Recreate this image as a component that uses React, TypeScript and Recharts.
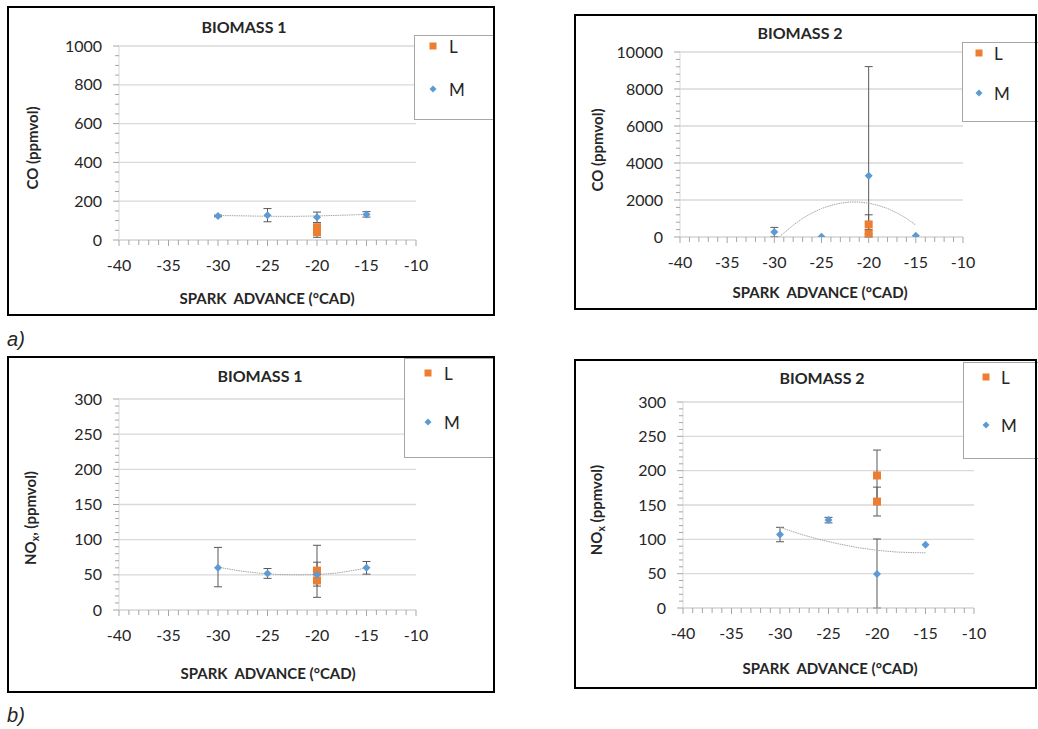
import React from 'react';
import { ScatterChart, Scatter, XAxis, YAxis, ErrorBar, ReferenceLine, Legend } from 'recharts';

const ORANGE = '#ED7D31';
const BLUE = '#5B9BD5';
const ERR = '#595959';
const TREND = '#a6a6a6';
const FONT = 'Lato, "Open Sans", sans-serif';

type Pt = { x: number; y: number; err?: number | number[] };

// tick labels
const xMajor = [-40, -35, -30, -25, -20, -15, -10];
const coB1Ticks = [0, 200, 400, 600, 800, 1000];
const coB2Ticks = [0, 2000, 4000, 6000, 8000, 10000];
const noxTicks = [0, 50, 100, 150, 200, 250, 300];

// a) CO, biomass 1
const coB1L: Pt[] = [
  { x: -20, y: 66 },
  { x: -20, y: 41, err: 27 },
];
const coB1M: Pt[] = [
  { x: -30, y: 124, err: 4 },
  { x: -25, y: 128, err: 34 },
  { x: -20, y: 117, err: 27 },
  { x: -15, y: 132, err: 14 },
];
const coB1Trend: Pt[] = [
  { x: -30, y: 126 }, { x: -28, y: 125 }, { x: -26, y: 123 }, { x: -24, y: 122 },
  { x: -22, y: 122 }, { x: -20, y: 124 }, { x: -18, y: 127 }, { x: -16, y: 130 }, { x: -15, y: 132 },
];

// a) CO, biomass 2
const coB2L: Pt[] = [
  { x: -20, y: 680, err: 520 },
  { x: -20, y: 180, err: [180, 220] },
];
const coB2M: Pt[] = [
  { x: -30, y: 270, err: 250 },
  { x: -25, y: 20 },
  { x: -20, y: 3310, err: [3310, 5900] },
  { x: -15, y: 70 },
];
const coB2Trend: Pt[] = [
  { x: -29.5, y: 0 }, { x: -28, y: 640 }, { x: -27, y: 1010 }, { x: -26, y: 1300 },
  { x: -25, y: 1540 }, { x: -24, y: 1710 }, { x: -23, y: 1830 }, { x: -22, y: 1890 },
  { x: -21, y: 1890 }, { x: -20, y: 1830 }, { x: -19, y: 1710 }, { x: -18, y: 1540 },
  { x: -17, y: 1300 }, { x: -16, y: 1010 }, { x: -15, y: 640 },
];

// b) NOx, biomass 1
const noxB1L: Pt[] = [
  { x: -20, y: 56, err: 12 },
  { x: -20, y: 42, err: 8 },
];
const noxB1M: Pt[] = [
  { x: -30, y: 60, err: [27, 29] },
  { x: -25, y: 52, err: 7 },
  { x: -20, y: 50, err: [32, 42] },
  { x: -15, y: 60, err: 9 },
];
const noxB1Trend: Pt[] = [
  { x: -30, y: 61 }, { x: -28, y: 56 }, { x: -26, y: 52.5 }, { x: -24, y: 50.5 },
  { x: -22, y: 50 }, { x: -20, y: 50.5 }, { x: -18, y: 52.5 }, { x: -16, y: 57 }, { x: -15, y: 60 },
];

// b) NOx, biomass 2
const noxB2L: Pt[] = [
  { x: -20, y: 193, err: 37 },
  { x: -20, y: 155, err: 21 },
];
const noxB2M: Pt[] = [
  { x: -30, y: 107, err: 10.5 },
  { x: -25, y: 128, err: 4 },
  { x: -20, y: 49.5, err: [49.5, 51] },
  { x: -15, y: 92 },
];
const noxB2Trend: Pt[] = [
  { x: -30, y: 117.5 }, { x: -28, y: 108 }, { x: -26, y: 100 }, { x: -24, y: 93.5 },
  { x: -22, y: 88 }, { x: -20, y: 84 }, { x: -18, y: 81.5 }, { x: -16, y: 80.5 }, { x: -15, y: 80.5 },
];

// subdivide major ticks for the minor tick marks
const withMinors = (majors: number[], div: number) => {
  const out: number[] = [];
  for (let i = 0; i < majors.length - 1; i++) {
    const step = (majors[i + 1] - majors[i]) / div;
    for (let k = 0; k < div; k++) out.push(majors[i] + k * step);
  }
  out.push(majors[majors.length - 1]);
  return out;
};

const xAll = withMinors(xMajor, 5);

const Square = (p: any) => <rect x={p.cx - 4} y={p.cy - 4} width={8} height={8} fill={ORANGE} />;
const Diamond = (p: any) => (
  <polygon points={`${p.cx},${p.cy - 4} ${p.cx + 4},${p.cy} ${p.cx},${p.cy + 4} ${p.cx - 4},${p.cy}`} fill={BLUE} />
);
const NoDot = () => <g />;

const renderXTick = (p: any) => {
  const v = p.payload.value;
  const major = xMajor.includes(v);
  return (
    <g>
      <line x1={p.x} x2={p.x} y1={p.y} y2={p.y + (major ? 6 : 5)} stroke="#a6a6a6" />
      {major && (
        <text x={p.x} y={p.y + 25} dy="0.35em" textAnchor="middle" fontSize={16} fontFamily={FONT} fill="#262626">
          {v}
        </text>
      )}
    </g>
  );
};

const yTickRenderer = (majors: number[]) => (p: any) => {
  const v = p.payload.value;
  const major = majors.includes(v);
  return (
    <g>
      <line x1={p.x - (major ? 6 : 4)} x2={p.x} y1={p.y} y2={p.y} stroke="#a6a6a6" />
      {major && (
        <text x={p.x - 17} y={p.y} dy="0.35em" textAnchor="end" fontSize={16} fontFamily={FONT} fill="#262626">
          {v}
        </text>
      )}
    </g>
  );
};

type Box = { l: number; t: number; r: number; b: number };
interface LegendGeo { box: Box; ly: number; my: number; mx: number; tx: number }

const LegendBox = ({ g }: { g: LegendGeo }) => {
  const w = g.box.r - g.box.l;
  const h = g.box.b - g.box.t;
  const mx = g.mx - g.box.l;
  const ly = g.ly - g.box.t;
  const my = g.my - g.box.t;
  return (
    <div style={{ position: 'relative', width: w, height: h, boxSizing: 'border-box', border: '1px solid #a6a6a6', background: '#fff', fontFamily: FONT, fontSize: 17, color: '#262626' }}>
      <svg width={w} height={h} style={{ position: 'absolute', left: 0, top: 0 }}>
        <rect x={mx - 3.5} y={ly - 3.5} width={7} height={7} fill={ORANGE} />
        <polygon points={`${mx},${my - 3.5} ${mx + 3.5},${my} ${mx},${my + 3.5} ${mx - 3.5},${my}`} fill={BLUE} />
      </svg>
      <span style={{ position: 'absolute', left: g.tx - g.box.l, top: ly, transform: 'translateY(-50%)', lineHeight: 1 }}>L</span>
      <span style={{ position: 'absolute', left: g.tx - g.box.l, top: my, transform: 'translateY(-50%)', lineHeight: 1 }}>M</span>
    </div>
  );
};

const Txt = ({ x, y, rot = 0, size = 15, bold = true, italic = false, family, children }: any) => (
  <div
    style={{
      position: 'absolute', left: x, top: y, transform: `translate(-50%, -50%) rotate(${rot}deg)`,
      whiteSpace: 'pre', fontSize: size, fontWeight: bold ? 700 : 400, fontStyle: italic ? 'italic' : 'normal',
      fontFamily: family || FONT, lineHeight: 1, color: '#262626',
    }}
  >
    {children}
  </div>
);

interface PanelProps {
  box: Box;
  plot: Box;
  yTicks: number[];
  yDiv: number;
  L: Pt[];
  M: Pt[];
  trend: Pt[];
  title: string;
  titleAt: [number, number];
  yLabel: React.ReactNode;
  yLabelAt: [number, number];
  xLabelAt: [number, number];
  legend: LegendGeo;
}

const Panel = (p: PanelProps) => {
  const { box, plot, legend } = p;
  const w = box.r - box.l;
  const h = box.b - box.t;
  const yMax = p.yTicks[p.yTicks.length - 1];
  return (
    <>
      <div style={{ position: 'absolute', left: box.l, top: box.t, width: w, height: h }}>
        <ScatterChart width={w} height={h} margin={{ top: plot.t - box.t, right: box.r - plot.r, left: 0, bottom: 0 }}>
          {p.yTicks.slice(1).map((v) => (
            <ReferenceLine key={v} y={v} stroke="#d9d9d9" strokeWidth={1.3} />
          ))}
          <XAxis
            type="number" dataKey="x" domain={[-40, -10]} ticks={xAll} interval={0}
            height={box.b - plot.b} tickSize={0} tickMargin={0} tickLine={false}
            tick={renderXTick} axisLine={{ stroke: '#bfbfbf' }} allowDataOverflow
          />
          <YAxis
            type="number" dataKey="y" domain={[0, yMax]} ticks={withMinors(p.yTicks, p.yDiv)} interval={0}
            width={plot.l - box.l} tickSize={0} tickMargin={0} tickLine={false}
            tick={yTickRenderer(p.yTicks)} axisLine={{ stroke: '#d9d9d9' }} allowDataOverflow
          />
          <Legend
            layout="horizontal" verticalAlign="middle" align="center"
            wrapperStyle={{ left: legend.box.l - box.l, top: legend.box.t - box.t, width: legend.box.r - legend.box.l, height: legend.box.b - legend.box.t }}
            content={() => <LegendBox g={legend} />}
          />
          <Scatter
            name="trend" data={p.trend} shape={NoDot} legendType="none" isAnimationActive={false}
            line={{ stroke: TREND, strokeWidth: 1, strokeDasharray: '1.5 0.8' }} lineType="joint"
          />
          <Scatter name="L" data={p.L} shape={Square} fill={ORANGE} isAnimationActive={false}>
            <ErrorBar dataKey="err" direction="y" width={4} stroke={ERR} strokeWidth={1} isAnimationActive={false} />
          </Scatter>
          <Scatter name="M" data={p.M} shape={Diamond} fill={BLUE} isAnimationActive={false}>
            <ErrorBar dataKey="err" direction="y" width={4} stroke={ERR} strokeWidth={1} isAnimationActive={false} />
          </Scatter>
        </ScatterChart>
      </div>
      <div style={{ position: 'absolute', left: box.l, top: box.t, width: w, height: h, boxSizing: 'border-box', border: '2px solid #000', pointerEvents: 'none' }} />
      <Txt x={p.titleAt[0]} y={p.titleAt[1]} size={16}>{p.title}</Txt>
      <Txt x={p.yLabelAt[0]} y={p.yLabelAt[1]} rot={-90}>{p.yLabel}</Txt>
      <Txt x={p.xLabelAt[0]} y={p.xLabelAt[1]}>{'SPARK  ADVANCE (°CAD)'}</Txt>
    </>
  );
};

const NOx = ({ comma }: { comma?: boolean }) => (
  <span>
    NO<sub style={{ fontSize: '0.7em', verticalAlign: '-0.25em' }}>x</sub>
    {comma ? ', (ppmvol)' : ' (ppmvol)'}
  </span>
);

export default function App() {
  return (
    <div style={{ position: 'absolute', left: 0, top: 0, width: 1038, height: 729, background: '#fff', fontFamily: FONT, overflow: 'hidden' }}>
      <Panel
        box={{ l: 7, t: 6, r: 495, b: 316 }} plot={{ l: 119, t: 46, r: 416, b: 240 }}
        yTicks={coB1Ticks} yDiv={4} L={coB1L} M={coB1M} trend={coB1Trend}
        title="BIOMASS 1" titleAt={[244, 27]} yLabel="CO (ppmvol)" yLabelAt={[32, 148]} xLabelAt={[267, 298]}
        legend={{ box: { l: 414, t: 35, r: 494, b: 120 }, ly: 45, my: 88, mx: 432, tx: 448 }}
      />
      <Panel
        box={{ l: 574, t: 14, r: 1037, b: 310 }} plot={{ l: 680, t: 52, r: 963, b: 237 }}
        yTicks={coB2Ticks} yDiv={5} L={coB2L} M={coB2M} trend={coB2Trend}
        title="BIOMASS 2" titleAt={[800, 33]} yLabel="CO (ppmvol)" yLabelAt={[597, 150]} xLabelAt={[820, 292]}
        legend={{ box: { l: 962, t: 42, r: 1042, b: 122 }, ly: 52, my: 92, mx: 978, tx: 993 }}
      />
      <Panel
        box={{ l: 7, t: 356, r: 495, b: 693 }} plot={{ l: 119, t: 399, r: 416, b: 610 }}
        yTicks={noxTicks} yDiv={5} L={noxB1L} M={noxB1M} trend={noxB1Trend}
        title="BIOMASS 1" titleAt={[260, 376]} yLabel={<NOx comma />} yLabelAt={[32, 518]} xLabelAt={[268, 673]}
        legend={{ box: { l: 404, t: 358, r: 494, b: 458 }, ly: 372, my: 421, mx: 427, tx: 443 }}
      />
      <Panel
        box={{ l: 574, t: 359, r: 1037, b: 689 }} plot={{ l: 683, t: 402, r: 974, b: 608 }}
        yTicks={noxTicks} yDiv={5} L={noxB2L} M={noxB2M} trend={noxB2Trend}
        title="BIOMASS 2" titleAt={[822, 378]} yLabel={<NOx />} yLabelAt={[598, 510]} xLabelAt={[830, 668]}
        legend={{ box: { l: 963, t: 362, r: 1042, b: 459 }, ly: 376, my: 424, mx: 985, tx: 1000 }}
      />
      <Txt x={16} y={339} size={20} bold={false} italic family='"Liberation Sans", Arial, sans-serif'>a)</Txt>
      <Txt x={16} y={715} size={20} bold={false} italic family='"Liberation Sans", Arial, sans-serif'>b)</Txt>
    </div>
  );
}
